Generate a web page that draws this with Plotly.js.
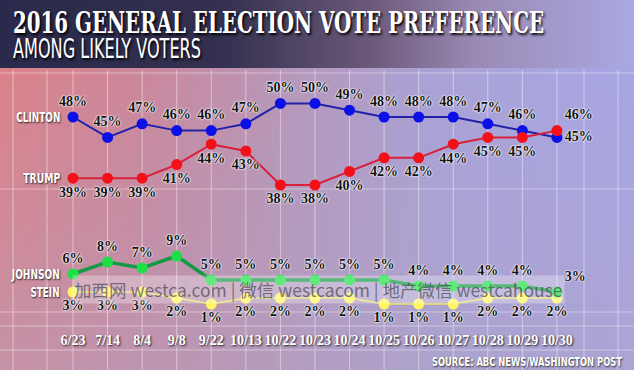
<!DOCTYPE html>
<html>
<head>
<meta charset="utf-8">
<script src="https://cdn.plot.ly/plotly-3.0.1.min.js"></script>
<style>
  html, body { margin:0; padding:0; width:634px; height:370px; overflow:hidden; }
  #wrap { position:relative; width:634px; height:370px;
    background:
      linear-gradient(to bottom, rgba(180,160,190,0) 0%, rgba(176,162,196,0.55) 100%),
      linear-gradient(to right, #e07e82 0%, #cf8496 22%, #b896b8 45%, #a8a2d8 68%, #a6a6e8 100%); }
  #head { position:absolute; left:0; top:0; width:634px; height:68px;
    background: linear-gradient(to right, #2a2a4c 0%, #34304f 35%, #6a5878 58%, #9a8ab4 75%, #aaa8e2 100%); }
  #chart { position:absolute; left:0; top:0; width:634px; height:370px; }
</style>
</head>
<body>
<div id="wrap"><div id="head"></div><div id="chart"></div></div>
<script>
const dates   = ["6/23","7/14","8/4","9/8","9/22","10/13","10/22","10/23","10/24","10/25","10/26","10/27","10/28","10/29","10/30"];
const clinton = [48,45,47,46,46,47,50,50,49,48,48,48,47,46,45];
const trump   = [39,39,39,41,44,43,38,38,40,42,42,44,45,45,46];
const johnson = [6,8,7,9,5,5,5,5,5,5,4,4,4,4,3];
const stein   = [3,3,3,2,1,2,2,2,2,1,1,1,2,2,2];
const names   = ["CLINTON","TRUMP","JOHNSON","STEIN"];
const title   = "2016 GENERAL ELECTION VOTE PREFERENCE";
const subtitle = "AMONG LIKELY VOTERS";
const source  = "SOURCE: ABC NEWS/WASHINGTON POST";
const watermark = "加西网 westca.com | 微信 westcacom | 地产微信 westcahouse";

const W = 634, H = 370;
const px = v => v / W;
const py = v => 1 - v / H;
const n = dates.length;

const labFont = {family:"Liberation Serif, DejaVu Serif, serif", size:14, color:"#111", weight:700,
  shadow:"0 0 2px #fff, 0 0 2px #fff, 0 0 1px #fff"};

function pos(arr, def, last) { return arr.map((_, i) => i === arr.length - 1 ? last : def); }

const traces = [
  {x:dates, y:clinton, yaxis:"y", mode:"lines+markers+text", texttemplate:"%{y}%",
   textposition:pos(clinton,"top center","middle right"), textfont:labFont, cliponaxis:false,
   line:{color:"#2222a8", width:2}, marker:{color:"#0a10e6", size:11}, hoverinfo:"skip"},
  {x:dates, y:trump, yaxis:"y", mode:"lines+markers+text", texttemplate:"%{y}%",
   textposition:pos(trump,"bottom center","top right"), textfont:labFont, cliponaxis:false,
   line:{color:"#d8203a", width:2}, marker:{color:"#f41018", size:11}, hoverinfo:"skip"},
  {x:dates, y:stein, yaxis:"y2", mode:"lines+markers+text", texttemplate:"%{y}%",
   textposition:pos(stein,"bottom center","bottom center"), textfont:labFont, cliponaxis:false,
   line:{color:"#ece464", width:1.5}, marker:{color:"#fff462", size:11}, hoverinfo:"skip"},
  {x:dates, y:johnson, yaxis:"y2", mode:"lines+markers+text", texttemplate:"%{y}%",
   textposition:pos(johnson,"top center","top right"), textfont:labFont, cliponaxis:false,
   line:{color:"#129a44", width:3.5}, marker:{color:"#1ee046", size:11}, hoverinfo:"skip"}
];

const shapes = [];
for (let i = 0; i < n; i++) {
  shapes.push({type:"line", layer:"below", xref:"x", yref:"paper", x0:i, x1:i, y0:0, y1:py(70),
    line:{color:"rgba(255,255,255,0.45)", width:1}});
}
[13, 47, 584, 618].forEach(v => shapes.push({type:"line", layer:"below", xref:"paper", yref:"paper",
  x0:px(v), x1:px(v), y0:0, y1:py(70), line:{color:"rgba(255,255,255,0.45)", width:1}}));
[73, 189, 312, 326, 350].forEach(v => shapes.push({type:"line", layer:"below", xref:"paper", yref:"paper",
  x0:0, x1:1, y0:py(v), y1:py(v), line:{color:"rgba(255,255,255,0.4)", width:1}}));

const sideFont = {family:"DejaVu Sans Condensed, DejaVu Sans, sans-serif", size:14, color:"#fff", weight:700,
  shadow:"1px 1px 2px #222"};
const ann = [
  {xref:"x", yref:"y", x:0, y:clinton[0], text:names[0]},
  {xref:"x", yref:"y", x:0, y:trump[0], text:names[1]},
  {xref:"x", yref:"y2", x:0, y:johnson[0], text:names[2]},
  {xref:"x", yref:"y2", x:0, y:stein[0], text:names[3]}
].map(a => Object.assign(a, {xanchor:"right", yanchor:"middle", xshift:-11, showarrow:false, font:sideFont}));

ann.push({xref:"paper", yref:"paper", x:px(11), y:py(3), xanchor:"left", yanchor:"top", showarrow:false,
  text:title,
  font:{family:"DejaVu Serif Condensed, DejaVu Serif, serif", size:30, color:"#fff", weight:700, shadow:"2px 2px 3px #000"}});
ann.push({xref:"paper", yref:"paper", x:px(11), y:py(32), xanchor:"left", yanchor:"top", showarrow:false,
  text:subtitle,
  font:{family:"DejaVu Sans Condensed, DejaVu Sans, sans-serif", size:26, color:"#fff", shadow:"2px 2px 3px #000"}});
ann.push({xref:"paper", yref:"paper", x:px(624), y:py(361), xanchor:"right", yanchor:"middle", showarrow:false,
  text:source,
  font:{family:"DejaVu Sans Condensed, DejaVu Sans, sans-serif", size:13, color:"#fff", weight:700, shadow:"1px 1px 2px #333"}});
ann.push({xref:"paper", yref:"paper", x:px(318), y:py(289), xanchor:"center", yanchor:"middle", showarrow:false,
  text:watermark, bgcolor:"rgba(255,255,255,0.3)", borderpad:1,
  font:{family:"Noto Sans CJK SC, sans-serif", size:17.5, color:"rgba(70,70,80,0.7)"}});

const layout = {
  width:W, height:H, margin:{l:0, r:0, t:0, b:0},
  paper_bgcolor:"rgba(0,0,0,0)", plot_bgcolor:"rgba(0,0,0,0)",
  showlegend:false,
  xaxis:{type:"category", categoryarray:dates, range:[-2.112, 16.23], anchor:"y2",
    showgrid:false, zeroline:false, showline:false, ticks:"outside", ticklen:17, tickcolor:"rgba(0,0,0,0)",
    tickfont:{family:"Liberation Serif, DejaVu Serif, serif", size:14, color:"#fff", weight:700, shadow:"1px 1px 2px #222"}},
  yaxis:{domain:[0.4816, 0.7389], range:[37, 51], visible:false},
  yaxis2:{domain:[0.1622, 0.3243], range:[0, 10], visible:false},
  shapes:shapes, annotations:ann
};

// squeeze condensed texts to the reference widths, keeping the chosen edge fixed
const fits = {};
fits[title] = [531, "left"];
fits[subtitle] = [188, "left"];
fits[source] = [190, "right"];
fits[names[0]] = [44, "right"];
fits[names[1]] = [37, "right"];
fits[names[2]] = [48, "right"];
fits[names[3]] = [29, "right"];

Plotly.newPlot("chart", traces, layout, {staticPlot:true, displayModeBar:false}).then(gd => {
  gd.querySelectorAll(".annotation-text").forEach(el => {
    const f = fits[el.textContent];
    if (!f) return;
    const b1 = el.getBBox();
    el.setAttribute("textLength", f[0]);
    el.setAttribute("lengthAdjust", "spacingAndGlyphs");
    const b2 = el.getBBox();
    const dx = f[1] === "left" ? (b1.x - b2.x) : ((b1.x + b1.width) - (b2.x + b2.width));
    const x0 = parseFloat(el.getAttribute("x") || "0");
    el.setAttribute("x", x0 + dx);
  });
});
</script>
</body>
</html>
